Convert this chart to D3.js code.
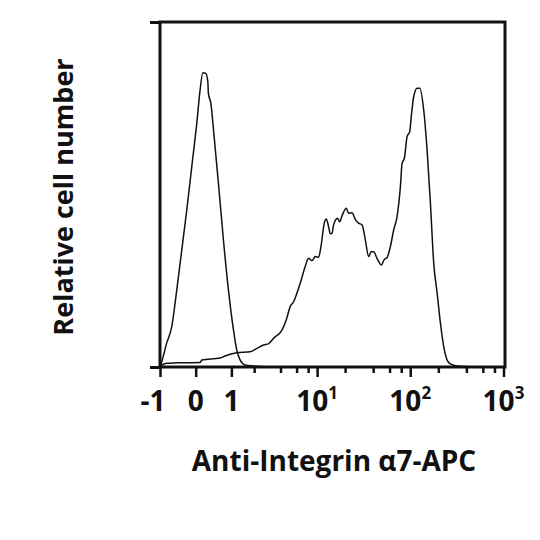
<!DOCTYPE html>
<html>
<head>
<meta charset="utf-8">
<script src="https://cdn.jsdelivr.net/npm/d3@7"></script>
<style>
  body { margin: 0; background: #fff; }
  svg { display: block; }
  text { font-family: "Open Sans", "DejaVu Sans", sans-serif; font-weight: 700; fill: #111; }
</style>
</head>
<body>
<div id="chart"></div>
<script>
const width = 540;
const height = 540;

// negative control histogram (fluorescence value, relative count)
const ctrlX = [-1, -0.973, -0.777, -0.626, -0.485, -0.351, -0.222, -0.097, 0.027, 0.109, 0.177,
  0.252, 0.304, 0.319, 0.382, 0.471, 0.591, 0.740, 0.900, 1.075, 1.198, 1.334, 1.545, 1.952, 3];
const ctrlY = [0, 0.6, 7.0, 11.7, 22.3, 33.9, 45.5, 58.1, 70.7, 80.3, 85.3,
  85.1, 82.7, 79.3, 76.5, 66.8, 53.3, 36.8, 22.3, 10.7, 4.9, 2.0, 0.6, 0.3, 0];

// anti-integrin a7 stained histogram
const stainX = [-1, -0.777, -0.485, 0.109, 0.151, 0.640, 0.792, 1.198, 1.793, 2.158, 2.577, 2.93,
  3.34, 4.15, 4.62, 5.11, 5.56, 6.57, 7.44, 8.07, 8.80, 9.55, 10.37, 11.0, 11.94, 12.55,
  13.29, 13.86, 14.46, 15.04, 16.6, 17.45, 18.52, 20.6, 21.8, 23.7, 25.7, 27.9, 30.4, 33.0,
  35.8, 38.0, 40.5, 44.0, 49.0, 52.8, 56.4, 61.2, 66.4, 72.2, 78.4, 81.7, 86.5, 92.5, 98.6,
  102.9, 108.9, 118.4, 126.3, 139.4, 151.6, 164.5, 178.5, 194.2, 210.7, 228.6, 248.7, 269.8,
  318.5, 500];
const stainY = [0.3, 1.1, 1.2, 1.3, 2.0, 2.6, 3.2, 4.1, 4.4, 5.4, 6.4, 6.7,
  8.3, 10.7, 13.6, 17.5, 18.9, 24.3, 29.1, 31.5, 30.8, 32.0, 31.8, 34.9, 41.7, 42.9,
  40.7, 38.6, 38.8, 41.2, 43.1, 42.1, 43.8, 46.0, 44.6, 44.7, 42.8, 41.7, 41.2, 36.8,
  32.0, 33.4, 33.4, 31.5, 29.6, 31.2, 31.7, 34.9, 39.7, 43.6, 52.3, 59.0, 60.5, 66.8, 68.2,
  73.0, 78.4, 80.8, 80.8, 74.5, 62.9, 47.5, 30.1, 21.4, 12.7, 5.9, 2.0, 0.9,
  0.3, 0];

const majorTicks = [-1, 0, 1, 10, 100, 1000];
const majorBase = ["-1", "0", "1", "10", "10", "10"];
const majorExp = ["", "", "", "1", "2", "3"];
const minorTicks = [2, 4, 6, 8, 20, 40, 60, 80, 200, 400, 600, 800];

const svg = d3.select("#chart")
  .append("svg")
  .attr("width", width)
  .attr("height", height);

// biexponential-like display: linear near zero, log for large values
const x = d3.scaleLinear()
  .domain([Math.asinh(-1), Math.asinh(1000)])
  .range([160, 503.5]);
const fx = v => x(Math.asinh(v));

const y = d3.scaleLinear()
  .domain([0, 100])
  .range([367, 22]);

// curves
const line = d3.line()
  .x(d => fx(d[0]))
  .y(d => y(d[1]))
  .curve(d3.curveMonotoneX);

[d3.zip(ctrlX, ctrlY), d3.zip(stainX, stainY)].forEach(pts => {
  svg.append("path")
    .datum(pts)
    .attr("d", line)
    .attr("fill", "none")
    .attr("stroke", "#111")
    .attr("stroke-width", 1.5)
    .attr("stroke-linejoin", "round");
});

// x ticks
const xMinor = d3.axisBottom(x)
  .tickValues(minorTicks.map(Math.asinh))
  .tickSize(6)
  .tickSizeOuter(0)
  .tickFormat("");
const xMajor = d3.axisBottom(x)
  .tickValues(majorTicks.map(Math.asinh))
  .tickSize(10)
  .tickSizeOuter(0)
  .tickFormat("");

[xMinor, xMajor].forEach(ax => {
  const g = svg.append("g")
    .attr("transform", `translate(0,${y(0)})`)
    .call(ax);
  g.select(".domain").remove();
  g.selectAll(".tick line").attr("stroke", "#111").attr("stroke-width", 2.5);
});

// y end ticks
const yAxis = svg.append("g")
  .attr("transform", `translate(${x.range()[0]},0)`)
  .call(d3.axisLeft(y).tickValues([0, 100]).tickSize(10).tickSizeOuter(0).tickFormat(""));
yAxis.select(".domain").remove();
yAxis.selectAll(".tick line").attr("stroke", "#111").attr("stroke-width", 3);

// frame
svg.append("rect")
  .attr("x", x.range()[0])
  .attr("y", y(100))
  .attr("width", 505 - x.range()[0])
  .attr("height", y(0) - y(100))
  .attr("fill", "none")
  .attr("stroke", "#111")
  .attr("stroke-width", 3);

// tick labels
const labels = svg.append("g")
  .selectAll("text")
  .data(majorTicks)
  .join("text")
  .attr("x", (d, i) => fx(d) + (d < 0 ? -7 : 0))
  .attr("y", 411)
  .attr("text-anchor", "middle")
  .style("font-size", "28px");
labels.append("tspan").text((d, i) => majorBase[i]);
labels.append("tspan")
  .attr("dy", -12)
  .style("font-size", "17px")
  .text((d, i) => majorExp[i]);

// axis titles
svg.append("text")
  .attr("x", 334)
  .attr("y", 471)
  .attr("text-anchor", "middle")
  .style("font-size", "28px")
  .text("Anti-Integrin α7-APC");

svg.append("text")
  .attr("transform", "translate(73,197) rotate(-90)")
  .attr("text-anchor", "middle")
  .style("font-size", "27px")
  .text("Relative cell number");
</script>
</body>
</html>
